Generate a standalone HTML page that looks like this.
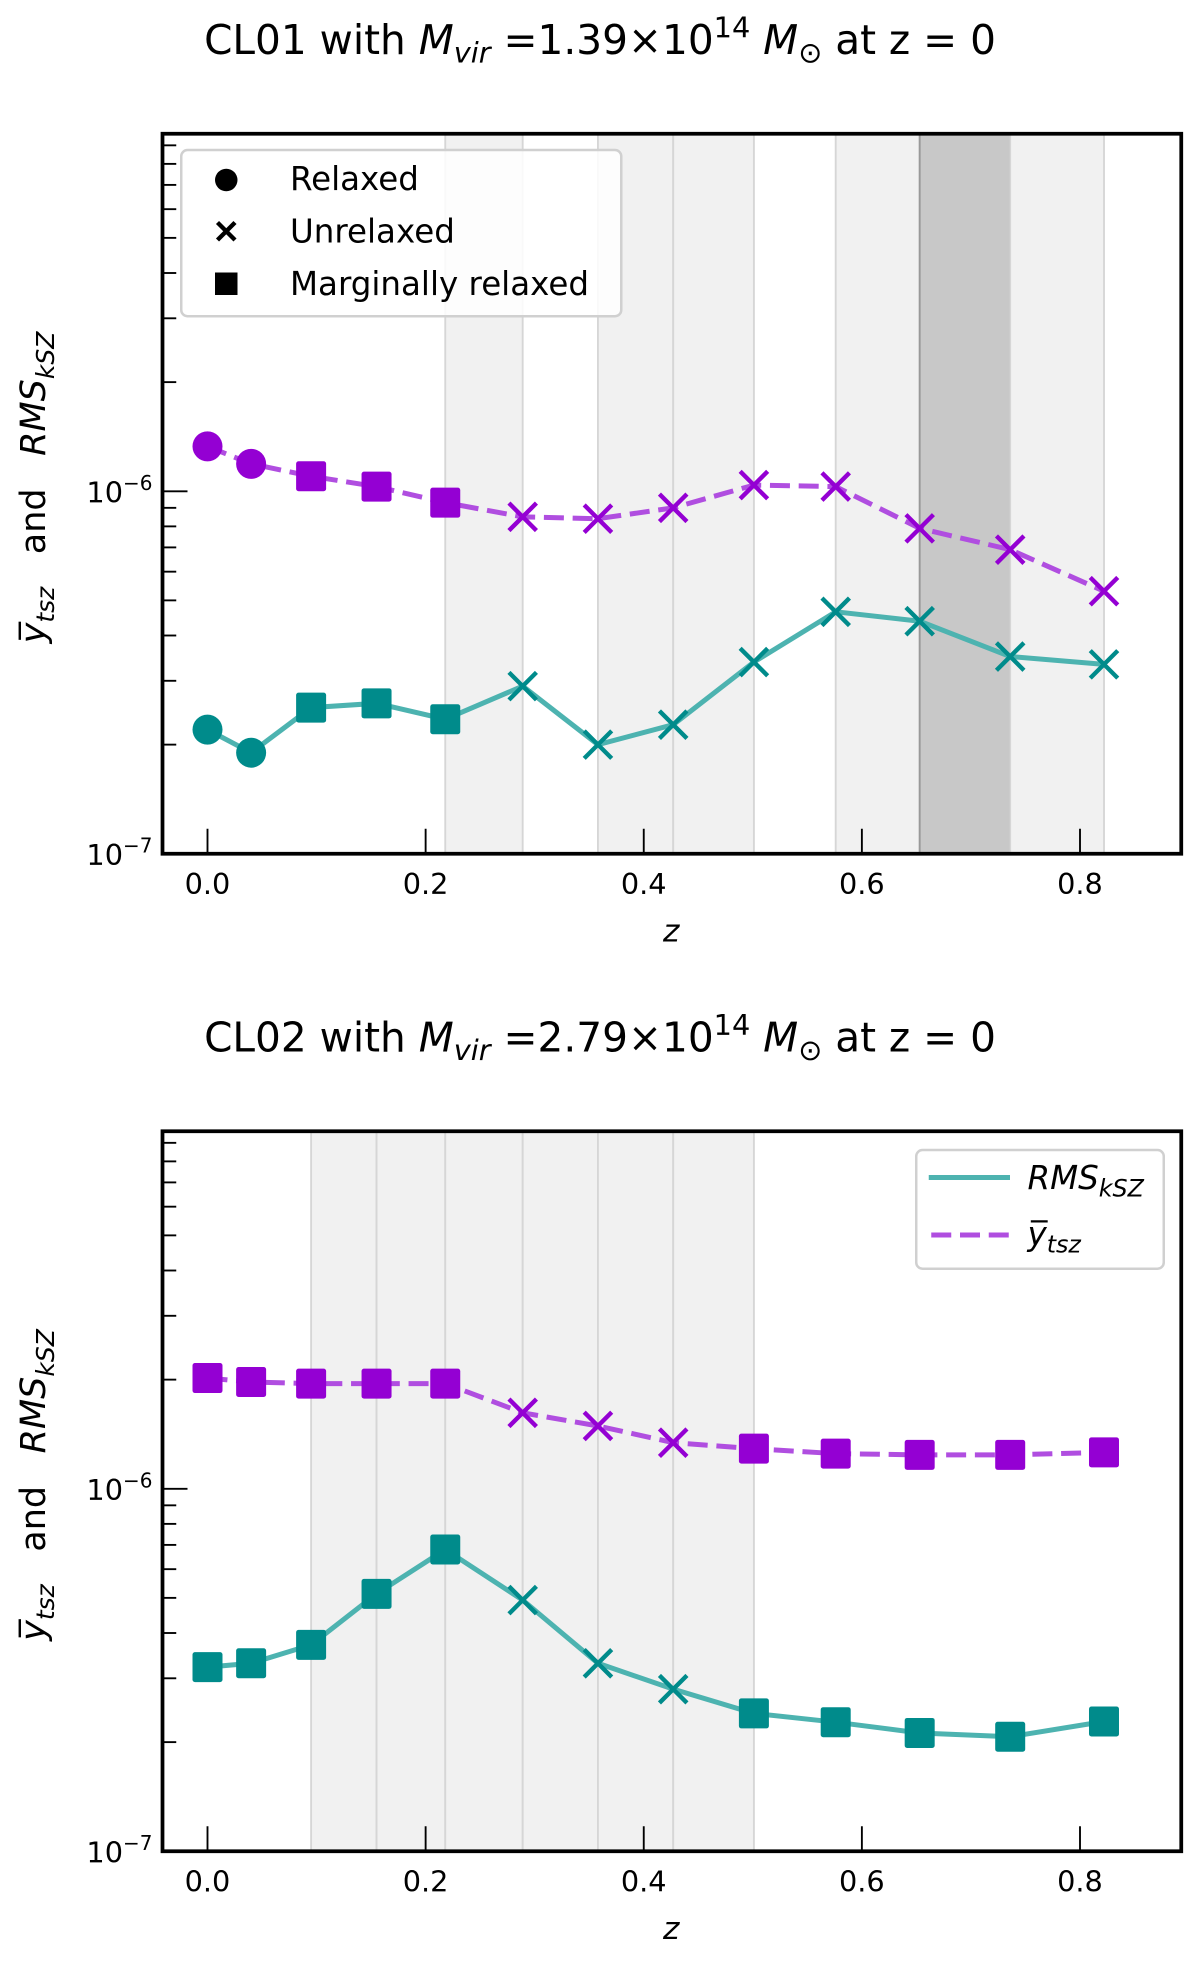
<!DOCTYPE html>
<html><head><meta charset="utf-8"><style>
html,body{margin:0;padding:0;background:#fff}
svg{display:block}
text{font-family:"DejaVu Sans","Liberation Sans",sans-serif;fill:#000}
</style></head><body>
<svg id="fig" width="1200" height="1971" viewBox="0 0 960 1576.8" xmlns="http://www.w3.org/2000/svg"></svg>
<script>
const zVals = [0, 0.040, 0.095, 0.155, 0.218, 0.289, 0.358, 0.427, 0.501, 0.576, 0.653, 0.736, 0.822];
const cl01Ytsz = [1.33e-6, 1.19e-6, 1.10e-6, 1.03e-6, 9.3e-7, 8.5e-7, 8.4e-7, 9.0e-7, 1.04e-6, 1.03e-6, 7.9e-7, 6.9e-7, 5.3e-7];
const cl01Rms = [2.2e-7, 1.9e-7, 2.53e-7, 2.6e-7, 2.35e-7, 2.9e-7, 2.0e-7, 2.27e-7, 3.38e-7, 4.65e-7, 4.38e-7, 3.5e-7, 3.33e-7];
const cl01State = ['r','r','m','m','m','u','u','u','u','u','u','u','u'];
const cl02Ytsz = [2.02e-6, 1.97e-6, 1.95e-6, 1.95e-6, 1.95e-6, 1.62e-6, 1.49e-6, 1.34e-6, 1.29e-6, 1.25e-6, 1.24e-6, 1.24e-6, 1.26e-6];
const cl02Rms = [3.22e-7, 3.3e-7, 3.71e-7, 5.13e-7, 6.8e-7, 4.93e-7, 3.3e-7, 2.8e-7, 2.4e-7, 2.27e-7, 2.12e-7, 2.07e-7, 2.28e-7];
const cl02State = ['m','m','m','m','m','u','u','u','m','m','m','m','m'];
const xTicks = [0, 0.2, 0.4, 0.6, 0.8];
const xTickLabels = ['0.0','0.2','0.4','0.6','0.8'];
const cl01Spans = [[0.218,0.289,'l'],[0.358,0.427,'l'],[0.427,0.501,'l'],[0.576,0.653,'l'],[0.653,0.736,'d'],[0.736,0.822,'l']];
const cl02Spans = [[0.095,0.155,'l'],[0.155,0.218,'l'],[0.218,0.289,'l'],[0.289,0.358,'l'],[0.358,0.427,'l'],[0.427,0.501,'l']];

const NS='http://www.w3.org/2000/svg';
const svg=document.getElementById('fig');
function mk(tag,attrs,parent){const e=document.createElementNS(NS,tag);for(const k in attrs)e.setAttribute(k,attrs[k]);(parent||svg).appendChild(e);return e;}

function drawPanel(o){
  const L=130,R=945,T=o.top,B=o.top+576;
  const y6=o.top+286;
  const dec=290;
  const xs=z=>166+z*872.5;
  const ys=v=>y6-(Math.log10(v)+6)*dec;
  const g=mk('g',{});
  
  
  o.spans.forEach(s=>{
    const r=mk('rect',{x:xs(s[0]),y:T,width:xs(s[1])-xs(s[0]),height:B-T,fill:s[2]==='d'?'#c8c8c8':'#f1f1f1'},g);
    
    
    const c=s[2]==='d'?'#999':'#d6d6d6';
    mk('line',{x1:xs(s[0]),x2:xs(s[0]),y1:T,y2:B,stroke:c,'stroke-width':1.5},g);
    mk('line',{x1:xs(s[1]),x2:xs(s[1]),y1:T,y2:B,stroke:c,'stroke-width':1.5},g);
  });
  const pts=arr=>arr.map((v,i)=>xs(zVals[i])+','+ys(v)).join(' ');
  const l1=mk('polyline',{points:pts(o.ytsz),fill:'none',stroke:'#b04ee0','stroke-width':4,'stroke-dasharray':'16,7'},g);
  
  
  const l2=mk('polyline',{points:pts(o.rms),fill:'none',stroke:'#4db3b0','stroke-width':4},g);
  
  
  function marker(x,y,st,col){
    let e;
    if(st==='r') e=mk('circle',{cx:x,cy:y,r:12,fill:col},g);
    else if(st==='m') e=mk('rect',{x:x-12,y:y-12,width:24,height:24,rx:2,fill:col},g);
    else e=mk('path',{d:`M${x-11},${y-11}L${x+11},${y+11}M${x-11},${y+11}L${x+11},${y-11}`,stroke:col,'stroke-width':3.5,fill:'none'},g);
    return e;
  }
  o.ytsz.forEach((v,i)=>{const m=marker(xs(zVals[i]),ys(v),o.state[i],'#9400d3');});
  o.rms.forEach((v,i)=>{const m=marker(xs(zVals[i]),ys(v),o.state[i],'#008b8b');});
  const f=mk('rect',{x:L,y:T,width:R-L,height:B-T,fill:'none',stroke:'#000','stroke-width':3},g);
  
  
  xTicks.forEach((z,i)=>{
    mk('line',{x1:xs(z),x2:xs(z),y1:B,y2:B-20,stroke:'#000','stroke-width':1.5},g);
    const t=mk('text',{x:xs(z),y:B+32,'text-anchor':'middle','font-size':23},g);
    t.textContent=xTickLabels[i];
    
    
  });
  for(let e=-7;e<=-5;e++){
    for(let k=1;k<10;k++){
      const y=ys(k*Math.pow(10,e));
      if(y<T||y>B+0.5)continue;
      mk('line',{x1:L,x2:L+(k===1?20:11),y1:y,y2:y,stroke:'#000','stroke-width':1.5},g);
      if(k===1){
        const t=mk('text',{x:L-8,y:y+9,'text-anchor':'end','font-size':23},g);
        t.innerHTML='10<tspan dy="-10" font-size="16">−'+(-e)+'</tspan>';
        
        
      }
    }
  }
  const xl=mk('text',{x:537,y:B+70,'text-anchor':'middle','font-size':25,'font-style':'italic'},g);
  xl.textContent='z';
  
  
  const yl=mk('text',{x:0,y:0,'text-anchor':'middle','font-size':28,transform:`translate(36,${T+283}) rotate(-90)`},g);
  yl.innerHTML='<tspan font-style="italic">y̅</tspan><tspan font-style="italic" font-size="20" dy="7">tsz</tspan><tspan dy="-7" dx="26">and</tspan><tspan font-style="italic" dx="26">RMS</tspan><tspan font-style="italic" font-size="20" dy="7">kSZ</tspan>';
  
  
  const tt=mk('text',{x:480,y:o.top-64,'text-anchor':'middle','font-size':32.5},g);
  tt.innerHTML=o.label+' with <tspan font-style="italic">M</tspan><tspan font-style="italic" font-size="23" dy="7">vir</tspan><tspan dy="-7"> =</tspan>'+o.mass+'×10<tspan font-size="23" dy="-13">14</tspan><tspan dy="13" font-style="italic"> M</tspan><tspan font-size="23" dy="7">⊙</tspan><tspan dy="-7"> at z = 0</tspan>';
  
  
  return g;
}
drawPanel({name:'cl01-panel',top:107,ytsz:cl01Ytsz,rms:cl01Rms,state:cl01State,spans:cl01Spans,label:'CL01',mass:'1.39'});
drawPanel({name:'cl02-panel',top:905,ytsz:cl02Ytsz,rms:cl02Rms,state:cl02State,spans:cl02Spans,label:'CL02',mass:'2.79'});

const lg=mk('g',{});


mk('rect',{x:145,y:120,width:352,height:133,rx:5,fill:'rgba(255,255,255,0.85)',stroke:'#d0d0d0','stroke-width':2},lg);
mk('circle',{cx:181,cy:144,r:9,fill:'#000'},lg);
mk('path',{d:'M174,178L188,192M174,192L188,178',stroke:'#000','stroke-width':3.5},lg);
mk('rect',{x:172,y:218,width:18,height:18,fill:'#000'},lg);
[['Relaxed',143],['Unrelaxed',185],['Marginally relaxed',227]].forEach(a=>{
  const t=mk('text',{x:232,y:a[1]+9,'font-size':26},lg);t.textContent=a[0];
  
  
});
const lg2=mk('g',{});


mk('rect',{x:733,y:920,width:198,height:95,rx:5,fill:'rgba(255,255,255,0.85)',stroke:'#d0d0d0','stroke-width':2},lg2);
mk('line',{x1:743,x2:808,y1:942,y2:942,stroke:'#4db3b0','stroke-width':4},lg2);
mk('line',{x1:745,x2:808,y1:988,y2:988,stroke:'#b04ee0','stroke-width':4,'stroke-dasharray':'16,7'},lg2);
const e1=mk('text',{x:822,y:951,'font-size':26,'font-style':'italic'},lg2);
e1.innerHTML='RMS<tspan font-size="19" dy="6">kSZ</tspan>';


const e2=mk('text',{x:822,y:996,'font-size':26,'font-style':'italic'},lg2);
e2.innerHTML='y̅<tspan font-size="19" dy="6">tsz</tspan>';


</script>
</body></html>
